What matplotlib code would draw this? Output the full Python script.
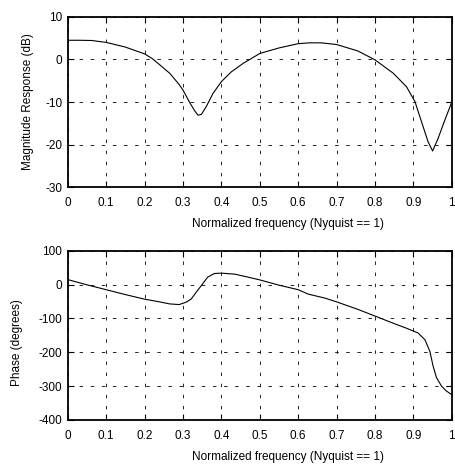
import matplotlib
matplotlib.use('Agg')
import matplotlib.pyplot as plt

plt.rcParams['font.family'] = ['Liberation Sans', 'DejaVu Sans']
plt.rcParams['font.size'] = 8.5
plt.rcParams['axes.unicode_minus'] = False
plt.rcParams['lines.scale_dashes'] = False

# magnitude response (dB)
f_mag = [0.0, 0.03, 0.062, 0.1, 0.15, 0.2, 0.22, 0.24, 0.266, 0.29, 0.3,
         0.318, 0.33, 0.339, 0.348, 0.361, 0.378, 0.4, 0.426, 0.457, 0.5,
         0.55, 0.6, 0.63, 0.66, 0.7, 0.755, 0.8, 0.847, 0.882, 0.904, 0.921,
         0.938, 0.95, 0.964, 0.982, 1.0]
mag = [4.5, 4.5, 4.45, 4.0, 2.9, 1.3, 0.2, -1.3, -3.3, -5.9, -7.2,
       -10.2, -12.0, -13.1, -12.9, -11.0, -8.0, -5.2, -2.9, -0.9, 1.4,
       2.7, 3.7, 3.9, 3.9, 3.5, 2.0, -0.1, -3.2, -6.4, -9.9, -14.6,
       -19.3, -21.5, -18.6, -14.2, -10.0]

# phase (degrees)
f_ph = [0.0, 0.048, 0.1, 0.152, 0.2, 0.239, 0.265, 0.29, 0.308, 0.321, 0.334,
        0.351, 0.364, 0.382, 0.4, 0.435, 0.47, 0.5, 0.548, 0.6, 0.626,
        0.67, 0.7, 0.755, 0.8, 0.847, 0.882, 0.912, 0.93, 0.943, 0.951,
        0.96, 0.973, 0.985, 1.0]
phase = [15, 0, -15, -30, -43, -51, -57, -59, -52, -43, -23,
         2, 22, 33, 34, 31, 22, 14, -1, -15, -28,
         -40, -51, -73, -93, -114, -129, -143, -163, -198, -240,
         -275, -300, -314, -326]

xlab = 'Normalized frequency (Nyquist == 1)'
xt = [0, 0.1, 0.2, 0.3, 0.4, 0.5, 0.6, 0.7, 0.8, 0.9, 1]
xtl = ['0', '0.1', '0.2', '0.3', '0.4', '0.5', '0.6', '0.7', '0.8', '0.9', '1']

fig = plt.figure(figsize=(4.55, 4.68), dpi=100)
ax1 = fig.add_axes([0.149, 0.600, 0.844, 0.364])
ax2 = fig.add_axes([0.149, 0.103, 0.844, 0.361])


def style(ax, yt):
    ax.set_xlim(0, 1)
    ax.set_xticks(xt)
    ax.set_xticklabels(xtl)
    ax.set_yticks(yt)
    ax.grid(True, color='k', linestyle=(0, (2.5, 5.5)), linewidth=0.6)
    ax.tick_params(direction='in', length=4, width=0.8, top=True, right=True,
                   labelsize=8.5)
    ax.tick_params(axis='x', pad=7)
    ax.tick_params(axis='y', pad=4)
    for s in ax.spines.values():
        s.set_linewidth(1.3)


ax1.plot(f_mag, mag, color='k', linewidth=0.8)
ax1.set_ylim(-30, 10)
style(ax1, [-30, -20, -10, 0, 10])
ax1.set_ylabel('Magnitude Response (dB)')
ax1.yaxis.set_label_coords(-0.089, 0.5)
ax1.set_xlabel(xlab)
ax1.xaxis.set_label_coords(0.574, -0.182)

ax2.plot(f_ph, phase, color='k', linewidth=0.8)
ax2.set_ylim(-400, 100)
style(ax2, [-400, -300, -200, -100, 0, 100])
ax2.set_ylabel('Phase (degrees)')
ax2.yaxis.set_label_coords(-0.117, 0.46)
ax2.set_xlabel(xlab)
ax2.xaxis.set_label_coords(0.574, -0.186)

fig.savefig('out.png', dpi=100)
